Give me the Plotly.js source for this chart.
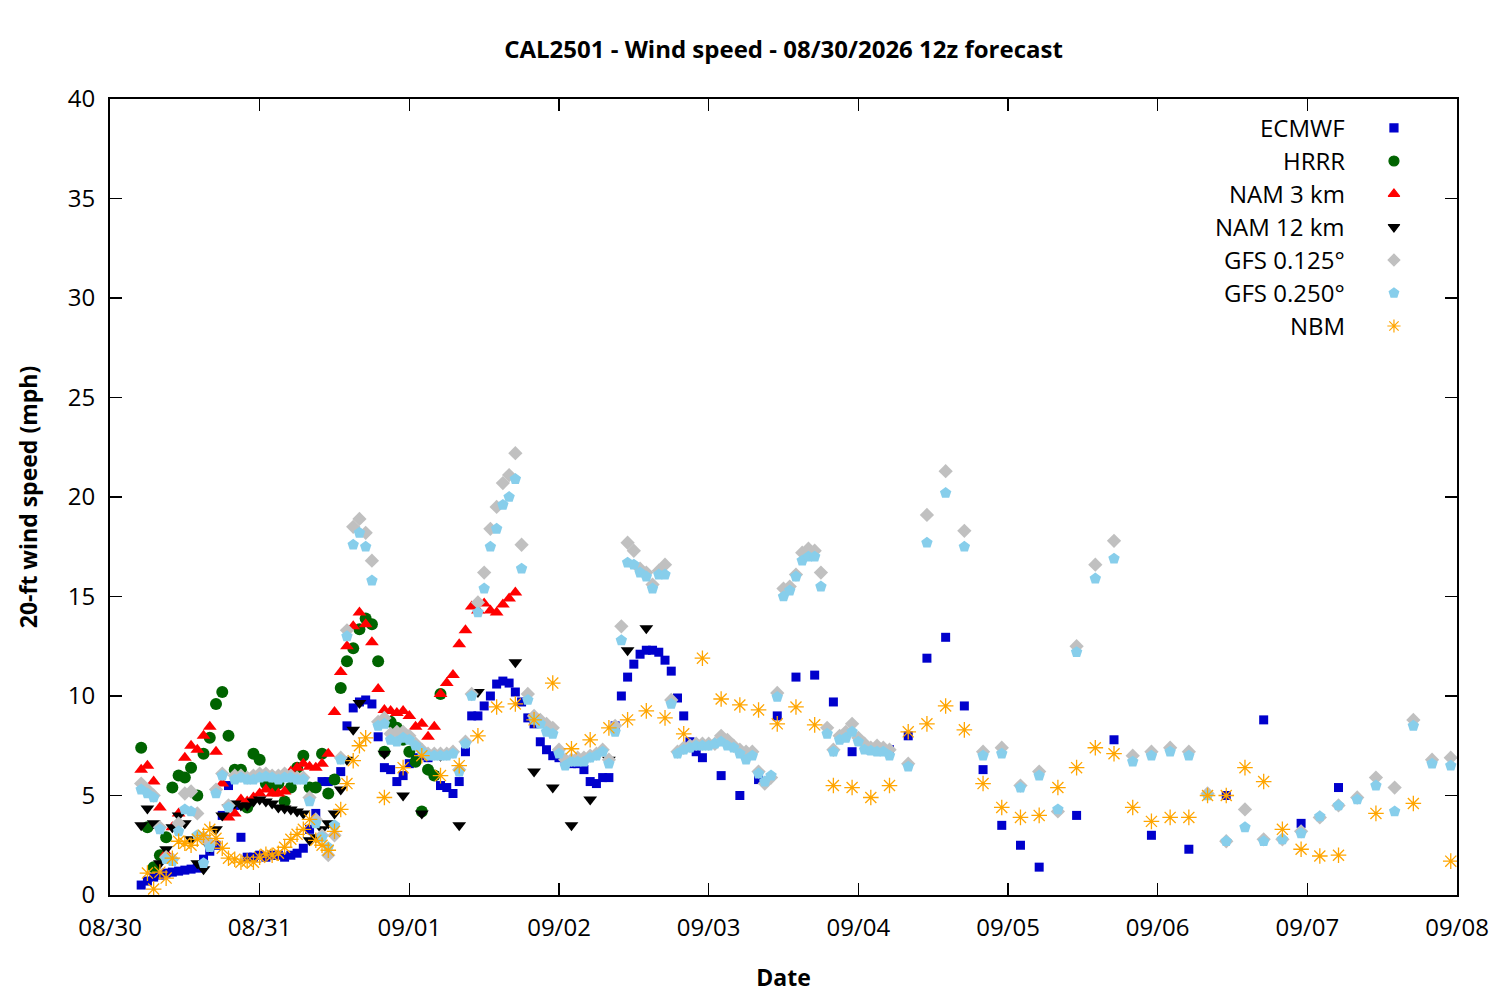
<!DOCTYPE html>
<html>
<head>
<meta charset="utf-8">
<script src="https://cdn.plot.ly/plotly-3.0.1.min.js"></script>
<style>
	body { margin: 0; background: white; }
	#chart { width: 1500px; height: 1000px; }
</style>
</head>
<body>
<div id="chart"></div>
<script>
// forecast hours counted from 08/30 00:00 local (run is 12z = 05:00 local)
function hourSteps(start, stop, step) {
	const out = []
	for (let h = start; h <= stop; h += step) out.push(h)
	return out
}

const ecmwfHours = [...hourSteps(5, 95, 1), ...hourSteps(98, 149, 3), ...hourSteps(155, 197, 6)]
const ecmwfSpeed = [
	0.5, 0.7, 0.9, 1.0, 1.1, 1.15, 1.2, 1.25, 1.3, 1.35,
	1.8, 2.2, 2.5, 4.0, 5.5, 4.5, 2.9, 1.9, 1.9, 2.0,
	1.9, 2.0, 2.0, 1.9, 2.0, 2.1, 2.35, 3.3, 4.1, 5.7,
	5.7, 5.8, 6.2, 8.5, 9.4, 9.7, 9.8, 9.6, 7.95, 6.4,
	6.3, 5.7, 6.0, 6.6, 6.9, 7.0, 6.9, 6.0, 5.5, 5.4,
	5.1, 5.7, 7.2, 9.0, 9.0, 9.5, 10.0, 10.6, 10.75, 10.65,
	10.2, 9.7, 8.9, 8.6, 7.7, 7.3, 7.0, 6.9, 6.7, 6.6,
	6.6, 6.3, 5.7, 5.6, 5.9, 5.9, 8.5, 10.0, 10.95, 11.6,
	12.1, 12.3, 12.3, 12.2, 11.8, 11.25, 9.9, 9.0, 7.7, 7.2,
	6.9,
	6.0, 5.0, 5.8, 9.0, 10.95, 11.05, 9.7, 7.2, 7.3, 7.3,
	8.0, 11.9, 12.95, 9.5, 6.3, 3.5, 2.5, 1.4,
	4.0, 7.8, 3.0, 2.3, 5.0, 8.8, 3.6, 5.4
]

const hrrrHours = hourSteps(5, 53, 1)
const hrrrSpeed = [
	7.4, 3.4, 1.4, 2.0, 2.9, 5.4, 6.0, 5.9, 6.4, 5.0,
	7.1, 7.9, 9.6, 10.2, 8.0, 6.3, 6.3, 4.4, 7.1, 6.8,
	5.6, 5.4, 5.6, 4.7, 5.4, 6.4, 7.0, 5.4, 5.4, 7.1,
	5.1, 5.8, 10.4, 11.75, 12.4, 13.35, 13.9, 13.6, 11.75, 7.2,
	8.7, 8.4, 7.8, 7.2, 6.7, 4.2, 6.3, 6.0, 10.1
]

const nam3Hours = hourSteps(5, 65, 1)
const nam3Speed = [
	6.3, 6.5, 5.7, 4.4, 2.1, 3.4, 4.1, 6.9, 7.5, 7.3,
	8.0, 8.45, 7.2, 5.6, 3.9, 4.1, 4.8, 4.7, 4.9, 5.1,
	5.3, 5.1, 5.1, 5.2, 6.2, 6.4, 6.6, 6.45, 6.4, 6.6,
	7.1, 9.2, 11.2, 12.5, 13.5, 14.2, 13.6, 12.7, 10.35, 9.3,
	9.25, 9.15, 9.25, 9.0, 8.45, 8.6, 7.95, 8.45, 10.1, 10.65,
	11.05, 12.6, 13.3, 14.5, 14.3, 14.65, 14.3, 14.2, 14.6, 14.9,
	15.2
]

const nam12Hours = [...hourSteps(5, 40, 1), 44, 47, 50, 53, 56, 59, 65, 68, 71, 74, 77, 80, 83, 86]
const nam12Speed = [
	3.5, 4.35, 3.6, 1.6, 2.3, 3.4, 4.0, 3.6, 2.8, 1.6,
	1.3, 2.4, 3.3, 4.0, 4.4, 4.6, 4.5, 4.5, 4.7, 4.8,
	4.7, 4.6, 4.4, 4.35, 4.3, 4.2, 4.1, 2.75, 2.9, 3.3,
	3.6, 4.1, 5.3, 6.8, 8.3, 9.65,
	7.1, 5.0, 4.1, 7.0, 3.5, 10.2, 11.7, 6.2, 5.4, 3.5,
	4.8, 6.8, 12.3, 13.4
]

const gfsHours = [...hourSteps(5, 125, 1), ...hourSteps(128, 215, 3)]
const gfs0125Speed = [
	5.6, 5.3, 5.0, 3.4, 1.9, 1.8, 3.6, 5.1, 5.2, 4.1,
	2.9, 2.6, 5.3, 6.1, 4.5, 6.0, 6.0, 5.9, 6.0, 6.1,
	6.1, 6.0, 6.0, 6.1, 6.0, 5.9, 5.9, 4.9, 3.8, 3.0,
	2.0, 3.0, 6.9, 13.3, 18.5, 18.9, 18.2, 16.8, 8.7, 8.9,
	8.1, 8.2, 8.2, 8.0, 7.6, 7.3, 7.1, 7.1, 7.1, 7.1,
	7.2, 6.3, 7.7, 10.1, 14.7, 16.2, 18.4, 19.5, 20.7, 21.1,
	22.2, 17.6, 10.1, 9.0, 8.8, 8.6, 8.4, 7.3, 6.8, 6.8,
	6.9, 6.9, 7.0, 7.1, 7.3, 6.8, 8.5, 13.5, 17.7, 17.3,
	16.4, 16.2, 15.6, 16.3, 16.6, 9.8, 7.2, 7.4, 7.5, 7.6,
	7.6, 7.6, 7.6, 8.0, 7.8, 7.5, 7.3, 7.2, 7.2, 6.2,
	5.6, 5.9, 10.15, 15.4, 15.5, 16.1, 17.2, 17.4, 17.3, 16.2,
	8.4, 7.3, 8.0, 8.2, 8.6, 7.9, 7.6, 7.4, 7.5, 7.4,
	7.3,
	6.6, 19.1, 21.3, 18.3, 7.2, 7.4, 5.5, 6.2, 4.2, 12.5,
	16.6, 17.8, 7.0, 7.2, 7.4, 7.2, 5.1, 2.7, 4.3, 2.8,
	2.8, 3.2, 3.9, 4.5, 4.9, 5.9, 5.4, 8.8, 6.8, 6.9
]
const gfs0250Speed = [
	5.3, 5.1, 4.9, 3.3, 1.8, 1.7, 3.2, 4.3, 4.2, 3.0,
	1.6, 2.4, 5.1, 6.0, 4.4, 5.8, 5.9, 5.8, 5.8, 5.9,
	5.95, 5.9, 5.8, 5.9, 5.9, 5.8, 5.8, 4.7, 3.6, 2.9,
	2.4, 3.5, 6.8, 13.0, 17.6, 18.2, 17.5, 15.8, 8.5, 8.6,
	7.8, 7.7, 7.9, 7.8, 7.5, 7.2, 7.0, 7.0, 7.0, 7.0,
	7.1, 6.2, 7.6, 10.0, 14.2, 15.4, 17.5, 18.4, 19.6, 20.0,
	20.9, 16.4, 9.8, 8.8, 8.6, 8.2, 8.1, 7.1, 6.5, 6.7,
	6.7, 6.7, 6.9, 7.0, 7.2, 6.6, 8.2, 12.8, 16.7, 16.6,
	16.2, 16.0, 15.4, 16.1, 16.1, 9.6, 7.1, 7.3, 7.4, 7.5,
	7.5, 7.5, 7.6, 7.7, 7.5, 7.4, 7.1, 6.8, 7.0, 6.1,
	5.7, 6.0, 9.95, 15.0, 15.3, 16.0, 16.8, 17.0, 17.0, 15.5,
	8.1, 7.2, 7.8, 7.9, 8.2, 7.7, 7.3, 7.25, 7.2, 7.2,
	7.0,
	6.45, 17.7, 20.2, 17.5, 7.0, 7.1, 5.4, 6.0, 4.3, 12.2,
	15.9, 16.9, 6.7, 7.0, 7.2, 7.0, 5.0, 2.7, 3.4, 2.7,
	2.8, 3.1, 3.95, 4.5, 4.8, 5.5, 4.2, 8.5, 6.6, 6.5
]

const nbmHours = [...hourSteps(6, 41, 1), ...hourSteps(44, 197, 3), 203, 209, 215]
const nbmSpeed = [
	1.1, 0.3, 1.15, 0.85, 1.85, 2.7, 2.6, 2.5, 2.8, 3.0,
	3.3, 2.85, 2.35, 1.85, 1.8, 1.65, 1.7, 1.65, 1.9, 2.05,
	2.0, 2.1, 2.4, 2.8, 3.05, 3.3, 3.8, 2.75, 2.5, 2.25,
	3.2, 4.3, 5.6, 6.75, 7.5, 7.9,
	4.9, 6.4, 7.0, 6.0, 6.5, 8.0, 9.45, 9.6, 8.8, 10.65,
	7.35, 7.8, 8.4, 8.8, 9.25, 8.9, 8.1, 11.9, 9.85, 9.55,
	9.3, 8.6, 9.45, 8.55, 5.5, 5.4, 4.9, 5.5, 8.2, 8.6,
	9.5, 8.3, 5.6, 4.4, 3.9, 4.0, 5.4, 6.4, 7.4, 7.1,
	4.4, 3.7, 3.9, 3.9, 5.0, 5.0, 6.4, 5.7, 3.3, 2.3,
	1.96, 2.0,
	4.1, 4.6, 1.7
]

const seriesNames = ["ECMWF", "HRRR", "NAM 3 km", "NAM 12 km", "GFS 0.125°", "GFS 0.250°", "NBM"]
const tickDays = ["2026-08-30", "2026-09-08"]

const DAY0 = Date.UTC(2026, 7, 30)
function hourToDate(h) {
	return new Date(DAY0 + h * 3600e3).toISOString().slice(0, 16).replace("T", " ")
}

const styles = [
	{ symbol: "square", size: 9, color: "#0000cc" },
	{ symbol: "circle", size: 12, color: "#006400" },
	{ symbol: "triangle-up", size: 12, color: "#ff0000" },
	{ symbol: "triangle-down", size: 12, color: "#000000" },
	{ symbol: "diamond", size: 11, color: "#c0c0c0" },
	{ symbol: "pentagon", size: 12, color: "#87ceeb" },
	{ symbol: "asterisk-open", size: 13, color: "#ffa500" }
]

const allSeries = [
	[ecmwfHours, ecmwfSpeed],
	[hrrrHours, hrrrSpeed],
	[nam3Hours, nam3Speed],
	[nam12Hours, nam12Speed],
	[gfsHours, gfs0125Speed],
	[gfsHours, gfs0250Speed],
	[nbmHours, nbmSpeed]
]

var data = allSeries.map(function (s, i) {
	if (s[0].length !== s[1].length) console.warn(seriesNames[i], s[0].length, s[1].length)
	const st = styles[i]
	const marker = { symbol: st.symbol, size: st.size, color: st.color, opacity: 1 }
	if (st.symbol === "asterisk-open") marker.line = { color: st.color, width: 1.3 }
	return {
		type: "scatter",
		mode: "markers",
		name: seriesNames[i],
		x: s[0].map(hourToDate),
		y: s[1],
		marker: marker,
		cliponaxis: true,
		showlegend: false,
		hoverinfo: "skip"
	}
})

// gnuplot style key: text right aligned, symbol to its right
const keyTop = 0.9636
const keyStep = 0.04146
const keyX = 0.9532
const textX = 0.9183
data.push({
	type: "scatter",
	mode: "markers",
	xaxis: "x2",
	yaxis: "y2",
	x: seriesNames.map(() => keyX),
	y: seriesNames.map((_, i) => keyTop - i * keyStep),
	marker: {
		symbol: styles.map(s => s.symbol),
		size: styles.map(s => Math.round(s.size * 0.85)),
		color: styles.map(s => s.color),
		opacity: 1,
		line: { color: styles.map(s => s.color), width: 1.2 }
	},
	showlegend: false,
	hoverinfo: "skip"
})

const annotations = seriesNames.map(function (name, i) {
	return {
		xref: "paper", yref: "paper",
		x: textX, y: keyTop - i * keyStep,
		xanchor: "right", yanchor: "middle",
		text: name, showarrow: false,
		font: { size: 24, color: "black" }
	}
})

var layout = {
	width: 1500,
	height: 1000,
	margin: { l: 110, r: 43, t: 99, b: 105, pad: 0 },
	paper_bgcolor: "white",
	plot_bgcolor: "white",
	font: { family: "Open Sans, sans-serif", size: 24, color: "black" },
	showlegend: false,
	title: {
		text: "<b>CAL2501 - Wind speed - 08/30/2026 12z forecast</b>",
		font: { size: 24 },
		xref: "paper", x: 0.5, xanchor: "center",
		yref: "container", y: 0.95, yanchor: "middle"
	},
	xaxis: {
		type: "date",
		range: tickDays,
		tick0: tickDays[0],
		dtick: 86400000,
		tickformat: "%m/%d",
		ticks: "inside",
		ticklen: 12,
		tickwidth: 1.5,
		tickcolor: "black",
		ticklabelstandoff: 10,
		showline: true,
		linewidth: 2,
		linecolor: "black",
		mirror: "ticks",
		showgrid: false,
		zeroline: false,
		title: { text: "<b>Date</b>", font: { size: 23 }, standoff: 28 }
	},
	yaxis: {
		range: [0, 40],
		dtick: 5,
		ticks: "inside",
		ticklen: 12,
		tickwidth: 1.5,
		tickcolor: "black",
		ticklabelstandoff: 8,
		showline: true,
		linewidth: 2,
		linecolor: "black",
		mirror: "ticks",
		showgrid: false,
		zeroline: false,
		title: { text: "<b>20-ft wind speed (mph)</b>", font: { size: 23 }, standoff: 24 }
	},
	xaxis2: { overlaying: "x", anchor: "y2", range: [0, 1], visible: false, fixedrange: true },
	yaxis2: { overlaying: "y", anchor: "x2", range: [0, 1], visible: false, fixedrange: true },
	annotations: annotations
}

var config = { displayModeBar: false, staticPlot: true }

Plotly.newPlot("chart", data, layout, config)
</script>
</body>
</html>
